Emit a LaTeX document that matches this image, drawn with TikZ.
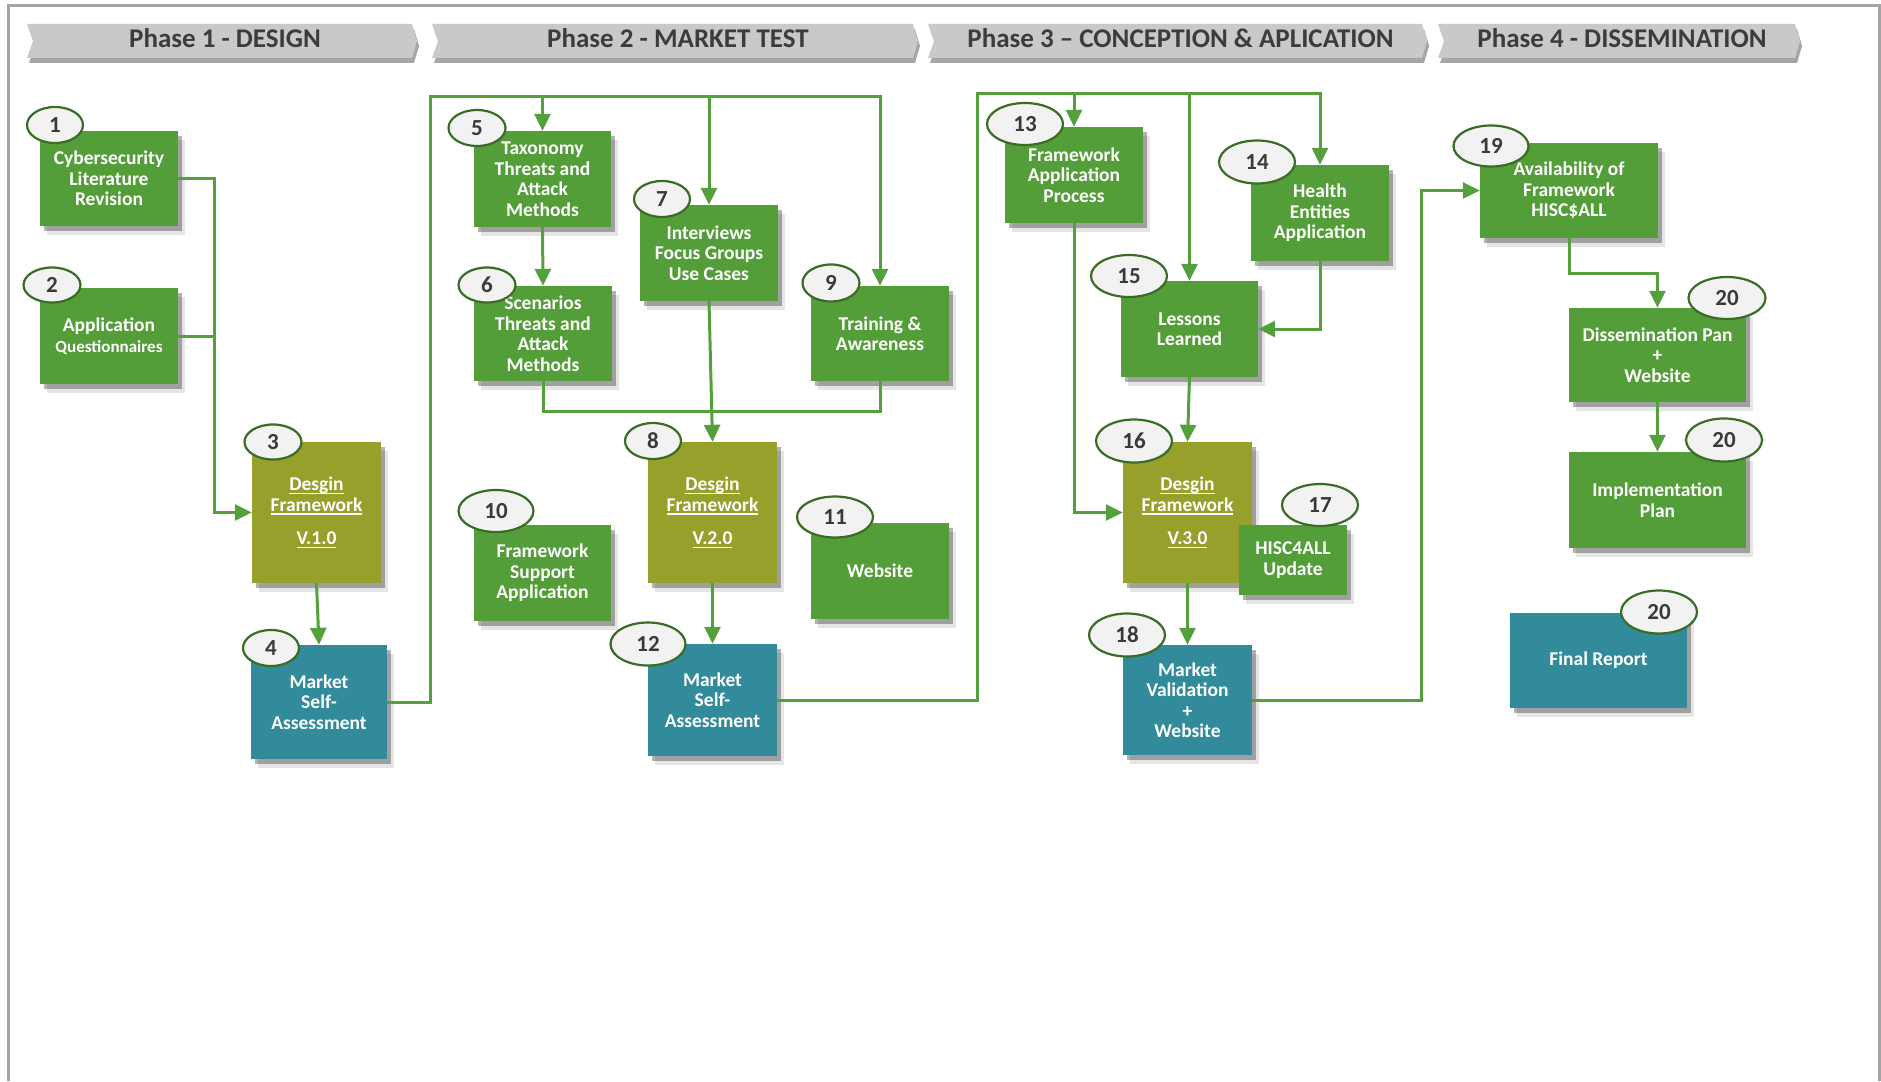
\documentclass[tikz,border=0pt]{standalone}
\usepackage{fontspec}
\setmainfont{Carlito}
\usetikzlibrary{arrows.meta,shapes.geometric,shadows,calc}

\definecolor{boxgreen}{RGB}{84,158,57}
\definecolor{boxolive}{RGB}{150,160,43}
\definecolor{boxteal}{RGB}{50,139,155}
\definecolor{linkgreen}{RGB}{84,160,60}
\definecolor{ringgreen}{RGB}{58,108,38}
\definecolor{badgefill}{RGB}{242,242,242}
\definecolor{numgray}{RGB}{58,58,58}
\definecolor{bannerfill}{RGB}{201,201,201}
\definecolor{bannertext}{RGB}{60,60,60}
\definecolor{framegray}{RGB}{165,165,165}

% underlined word with a solid rule
\newcommand\ulbox[1]{\setbox0\hbox{#1}\rlap{\rule[-3.5pt]{\wd0}{1.5pt}}\box0}

% chevron banner with its title: name, left x, right x, title
\newcommand\phasebanner[4]{%
  \fill[bannerfill, drop shadow={shadow xshift=2pt, shadow yshift=-5pt, fill=black, opacity=0.35}]
    (#2,24) -- (#3-5,24) -- (#3,41) -- (#3-5,58) -- (#2,58) -- (#2+6,41) -- cycle;
  \node[bannerlabel] (#1) at ({(#2+#3)/2+3},38.5) {#4};}

\tikzset{
  stepbox/.style={rectangle, inner sep=0pt, align=center, text=white,
    font=\fontsize{19.5}{20.5}\selectfont\bfseries,
    drop shadow={shadow xshift=7pt, shadow yshift=-9pt, fill=black, opacity=0.10},
    drop shadow={shadow xshift=4pt, shadow yshift=-5pt, fill=black, opacity=0.30}},
  gbox/.style={stepbox, fill=boxgreen},
  obox/.style={stepbox, fill=boxolive},
  tbox/.style={stepbox, fill=boxteal},
  badge/.style={ellipse, fill=badgefill, draw=ringgreen, line width=2.2pt,
    inner sep=0pt, text=numgray, font=\fontsize{23}{23}\selectfont\bfseries},
  link/.style={draw=linkgreen, line width=3pt},
  arrowlink/.style={link, -{Triangle[length=17pt,width=16pt]}},
  bannerlabel/.style={text=bannertext, inner sep=0pt, font=\fontsize{27}{27}\selectfont\bfseries},
  pageframe/.style={draw=framegray, line width=3pt},
}

\begin{document}
\begin{tikzpicture}[x=1pt, y=-1pt]
\useasboundingbox (0,0) rectangle (1881,1081);
\draw[pageframe] (8,1081) -- (8,6) -- (1879,6) -- (1879,1081);

% phase headers
\phasebanner{ph1}{27}{417}{Phase 1 - DESIGN}
\phasebanner{ph2}{432}{918}{Phase 2 - MARKET TEST}
\phasebanner{ph3}{928}{1427}{Phase 3 – CONCEPTION \& APLICATION}
\phasebanner{ph4}{1438}{1800}{Phase 4 - DISSEMINATION}

% phase 1
\node[gbox, minimum width=138pt, minimum height=95pt] (n1) at (109,178.5) {Cybersecurity\\Literature\\Revision};
\node[gbox, minimum width=138pt, minimum height=96pt] (n2) at (109,336) {Application\\{\fontsize{17}{20}\selectfont Questionnaires}};
\node[obox, minimum width=129pt, minimum height=141pt] (n3) at (316.5,512.5) {\ulbox{Desgin}\\\ulbox{Framework}\\[13pt]\ulbox{V.1.0}};
\node[tbox, minimum width=136pt, minimum height=114pt] (n4) at (319,702) {Market\\Self-\\Assessment};

% phase 2
\node[gbox, minimum width=137pt, minimum height=96pt] (n5) at (542.5,179) {Taxonomy\\Threats and\\Attack\\Methods};
\node[gbox, minimum width=138pt, minimum height=95pt] (n6) at (543,333.5) {Scenarios\\Threats and\\Attack\\Methods};
\node[gbox, minimum width=138pt, minimum height=96pt] (n7) at (709,253) {Interviews\\Focus Groups\\Use Cases};
\node[gbox, minimum width=138pt, minimum height=95pt] (n9) at (880,333.5) {Training \&\\Awareness};
\node[obox, minimum width=129pt, minimum height=141pt] (n8) at (712.5,512.5) {\ulbox{Desgin}\\\ulbox{Framework}\\[13pt]\ulbox{V.2.0}};
\node[gbox, minimum width=137pt, minimum height=96pt] (n10) at (542.5,573) {Framework\\Support\\Application};
\node[gbox, minimum width=138pt, minimum height=96pt] (n11) at (880,571) {Website};
\node[tbox, minimum width=129pt, minimum height=112pt] (n12) at (712.5,700) {Market\\Self-\\Assessment};

% phase 3
\node[gbox, minimum width=138pt, minimum height=96pt] (n13) at (1074,175) {Framework\\Application\\Process};
\node[gbox, minimum width=138pt, minimum height=96pt] (n14) at (1320,213) {Health\\Entities\\Application};
\node[gbox, minimum width=137pt, minimum height=96pt] (n15) at (1189.5,329) {Lessons\\Learned};
\node[obox, minimum width=129pt, minimum height=141pt] (n16) at (1187.5,512.5) {\ulbox{Desgin}\\\ulbox{Framework}\\[13pt]\ulbox{V.3.0}};
\node[gbox, minimum width=108pt, minimum height=70pt] (n17) at (1293,560) {HISC4ALL\\Update};
\node[tbox, minimum width=129pt, minimum height=110pt] (n18) at (1187.5,700) {Market\\Validation\\+\\Website};

% phase 4
\node[gbox, minimum width=178pt, minimum height=95pt] (n19) at (1569,190.5) {Availability of\\Framework\\HISC\$ALL};
\node[gbox, minimum width=177pt, minimum height=94pt] (n20a) at (1657.5,355) {Dissemination Pan\\+\\Website};
\node[gbox, minimum width=177pt, minimum height=96pt] (n20b) at (1657.5,500) {Implementation\\Plan};
\node[tbox, minimum width=177pt, minimum height=95pt] (n20c) at (1598.5,660.5) {Final Report};

% junction points of the buses
\coordinate (m1) at (214,512.5);
\coordinate (b2) at (430,96);
\coordinate (m8) at (712.5,411);
\coordinate (b3) at (977,93);
\coordinate (b4) at (1421,700);

% phase 1 flow
\draw[arrowlink] (n1.east) -| (m1) -- (n3.west);
\draw[link] (n2.east) -- (n2.east -| m1);
\draw[arrowlink] (n3.south) -- (n4.north);

% phase 2 flow
\draw[arrowlink] (n4.east) -| (b2) -| (n9.north);
\draw[arrowlink] (n5.north |- b2) -- (n5.north);
\draw[arrowlink] (n7.north |- b2) -- (n7.north);
\draw[arrowlink] (n5.south) -- (n6.north);
\draw[link] (n6.south) |- (m8) -| (n9.south);
\draw[arrowlink] (n7.south) -- (n8.north);
\draw[arrowlink] (n8.south) -- (n12.north);

% phase 3 flow
\draw[arrowlink] (n12.east) -| (b3) -| (n14.north);
\draw[arrowlink] (n13.north |- b3) -- (n13.north);
\draw[arrowlink] (n15.north |- b3) -- (n15.north);
\draw[arrowlink] (n13.south) |- (n16.west);
\draw[arrowlink] (n14.south) |- (n15.east);
\draw[arrowlink] (n15.south) -- (n16.north);
\draw[arrowlink] (n16.south) -- (n18.north);

% phase 4 flow
\draw[arrowlink] (n18.east) -- (b4) |- (n19.west);
\draw[arrowlink] (n19.south) -- ++(0,35) -| (n20a.north);
\draw[arrowlink] (n20a.south) -- (n20b.north);

% step numbers
\node[badge, minimum width=56pt, minimum height=36pt] (c1) at (55,125) {1};
\node[badge, minimum width=57pt, minimum height=35pt] (c2) at (52,285) {2};
\node[badge, minimum width=57pt, minimum height=35pt] (c3) at (273,442) {3};
\node[badge, minimum width=56pt, minimum height=36pt] (c4) at (271,648) {4};
\node[badge, minimum width=57pt, minimum height=36pt] (c5) at (477,128) {5};
\node[badge, minimum width=57pt, minimum height=35pt] (c6) at (487,285) {6};
\node[badge, minimum width=56pt, minimum height=36pt] (c7) at (662,199) {7};
\node[badge, minimum width=56pt, minimum height=36pt] (c8) at (653,441) {8};
\node[badge, minimum width=57pt, minimum height=37pt] (c9) at (831,283) {9};
\node[badge, minimum width=75pt, minimum height=42pt] (c10) at (496,511) {10};
\node[badge, minimum width=76pt, minimum height=41pt] (c11) at (835,517) {11};
\node[badge, minimum width=75pt, minimum height=43pt] (c12) at (648,644) {12};
\node[badge, minimum width=76pt, minimum height=42pt] (c13) at (1025,124) {13};
\node[badge, minimum width=76pt, minimum height=43pt] (c14) at (1257,162) {14};
\node[badge, minimum width=76pt, minimum height=42pt] (c15) at (1129,276) {15};
\node[badge, minimum width=76pt, minimum height=43pt] (c16) at (1134,441) {16};
\node[badge, minimum width=76pt, minimum height=42pt] (c17) at (1320,505) {17};
\node[badge, minimum width=76pt, minimum height=43pt] (c18) at (1127,635) {18};
\node[badge, minimum width=75pt, minimum height=41pt] (c19) at (1491,146) {19};
\node[badge, minimum width=77pt, minimum height=42pt] (c20a) at (1727,298) {20};
\node[badge, minimum width=76pt, minimum height=43pt] (c20b) at (1724,440) {20};
\node[badge, minimum width=76pt, minimum height=43pt] (c20c) at (1659,612) {20};
\end{tikzpicture}
\end{document}
